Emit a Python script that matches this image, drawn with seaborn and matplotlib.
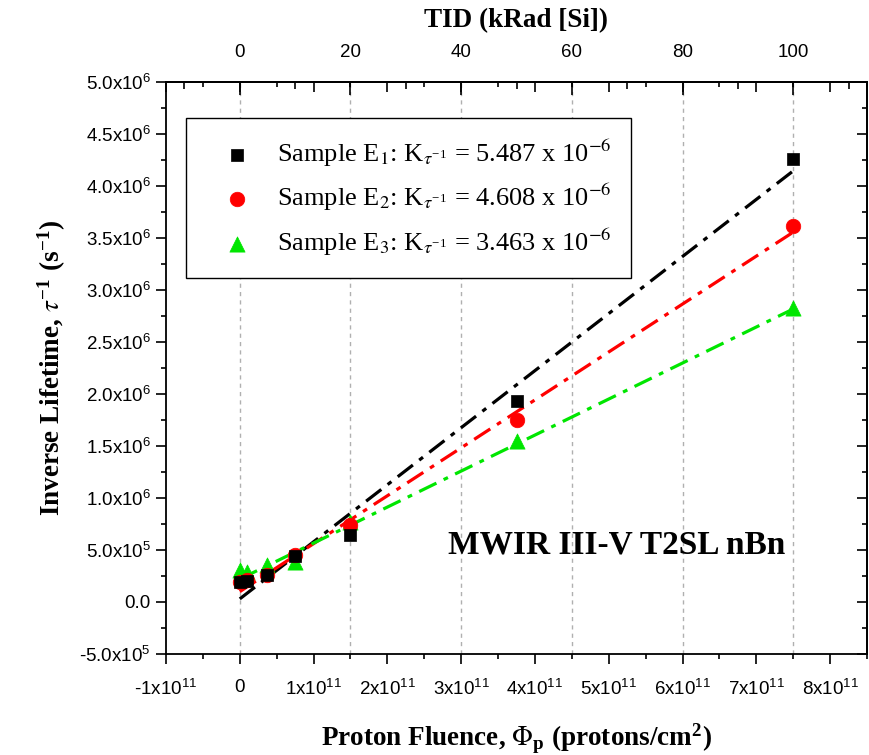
import matplotlib
matplotlib.use("Agg")
import matplotlib.pyplot as plt
from matplotlib.font_manager import FontProperties
from matplotlib.ticker import MultipleLocator, FixedLocator
import seaborn as sns
import numpy as np
import pandas as pd

# ---------------- data ----------------
fluence = [0.0, 1.0e10, 3.75e10, 7.5e10, 1.5e11, 3.75e11, 7.5e11]
e1_vals = [0.19e6, 0.20e6, 0.26e6, 0.44e6, 0.645e6, 1.93e6, 4.26e6]
e2_vals = [0.19e6, 0.21e6, 0.26e6, 0.45e6, 0.74e6, 1.75e6, 3.62e6]
e3_vals = [0.31e6, 0.29e6, 0.36e6, 0.38e6, 0.77e6, 1.55e6, 2.83e6]
slopes = [5.487e-6, 4.608e-6, 3.463e-6]
intercepts = [0.03e6, 0.10e6, 0.22e6]
fit_range = [0.0, 7.5e11]
labels = [r"Sample E$_1$: K$_{\tau^{\mathregular{-1}}}$ = 5.487 x 10$^{-6}$",
          r"Sample E$_2$: K$_{\tau^{\mathregular{-1}}}$ = 4.608 x 10$^{-6}$",
          r"Sample E$_3$: K$_{\tau^{\mathregular{-1}}}$ = 3.463 x 10$^{-6}$"]
tid_ticks = [0, 20, 40, 60, 80, 100]
fluence_per_krad = 7.5e9

colors = ["#000000", "#ff0000", "#00e600"]
markers = ["s", "o", "^"]
sizes = [80, 110, 120]

sns.set_theme(style="white")
plt.rcParams["font.family"] = ["Liberation Sans", "DejaVu Sans"]
plt.rcParams["mathtext.fontset"] = "custom"
plt.rcParams["mathtext.rm"] = "Liberation Sans"
plt.rcParams["mathtext.it"] = "Liberation Sans:italic"
plt.rcParams["mathtext.bf"] = "Liberation Sans:bold"
for k in ["text.color", "axes.labelcolor", "xtick.color", "ytick.color", "axes.edgecolor"]:
    plt.rcParams[k] = "black"

fig = plt.figure(figsize=(8.69, 7.55), dpi=100)
ax = fig.add_axes([166/869, 1-654/755, (867-166)/869, (654-82)/755])

# grid lines at TID major ticks
for t in tid_ticks:
    ax.axvline(t*fluence_per_krad, color="#b0b0b0", ls=(0, (3, 3)), lw=1.0, zorder=0)

series = [e1_vals, e2_vals, e3_vals]
for i, vals in enumerate(series):
    fx = np.array(fit_range)
    fy = intercepts[i] + slopes[i]*fx
    sns.lineplot(x=fx, y=fy, ax=ax, color=colors[i], lw=2.3,
                 dashes=False, linestyle=(0, (6, 2.5, 1.5, 2.5)), zorder=2)
order = [2, 1, 0]
for i in order:
    df = pd.DataFrame({"x": fluence, "y": series[i]})
    sns.scatterplot(data=df, x="x", y="y", ax=ax, color=colors[i], marker=markers[i],
                    s=sizes[i], edgecolor=colors[i], linewidth=0.5, zorder=3, label=labels[i])

ax.set_xlim(-1e11, 8.5e11)
ax.set_ylim(-5e5, 5e6)

# ticks
ax.xaxis.set_major_locator(MultipleLocator(1e11))
ax.xaxis.set_minor_locator(MultipleLocator(5e10))
ax.yaxis.set_major_locator(MultipleLocator(5e5))
ax.yaxis.set_minor_locator(MultipleLocator(2.5e5))

def fmt_x(v):
    n = int(round(v/1e11))
    if n == 0:
        return "0"
    return f"{n}x10$^{{11}}$"

def fmt_y(v):
    if abs(v) < 1:
        return "0.0"
    e = int(np.floor(np.log10(abs(v))))
    m = v/10**e
    return f"{m:.1f}x10$^{{{e}}}$"

xt = ax.get_xticks()
ax.set_xticks(xt)
ax.set_xticklabels([fmt_x(v) for v in xt])
yt = ax.get_yticks()
ax.set_yticks(yt)
ax.set_yticklabels([fmt_y(v) for v in yt])
ax.set_xlim(-1e11, 8.5e11)
ax.set_ylim(-5e5, 5e6)

ax.tick_params(axis="both", which="major", direction="out", length=7, width=1.2,
               labelsize=13.5, colors="black", bottom=True, left=True)
ax.tick_params(axis="both", which="minor", direction="out", length=3.5, width=1.2,
               bottom=True, left=True)
ax.tick_params(axis="x", pad=11)
ax.tick_params(axis="y", pad=4)
for s in ax.spines.values():
    s.set_color("black")
    s.set_linewidth(1.3)

# mirrored ticks (inward) on top and right
sec_top = ax.secondary_xaxis("top")
sec_top.xaxis.set_major_locator(MultipleLocator(1e11))
sec_top.xaxis.set_minor_locator(MultipleLocator(5e10))
sec_top.tick_params(which="major", direction="in", length=7, width=1.2, labeltop=False)
sec_top.tick_params(which="minor", direction="in", length=3.5, width=1.2)
sec_top.spines["top"].set_linewidth(1.3)

sec_right = ax.secondary_yaxis("right")
sec_right.yaxis.set_major_locator(MultipleLocator(5e5))
sec_right.yaxis.set_minor_locator(MultipleLocator(2.5e5))
sec_right.tick_params(which="major", direction="in", length=7, width=1.2, labelright=False)
sec_right.tick_params(which="minor", direction="in", length=3.5, width=1.2)
sec_right.spines["right"].set_linewidth(1.3)

# TID axis on top
tid = ax.secondary_xaxis("top", functions=(lambda f: f/fluence_per_krad, lambda t: t*fluence_per_krad))
tid.xaxis.set_major_locator(FixedLocator(tid_ticks))
tid.xaxis.set_minor_locator(MultipleLocator(10))
tid.tick_params(which="major", direction="in", length=9, width=1.2, labelsize=13.5, pad=15)
tid.tick_params(which="minor", direction="in", length=5, width=1.2)
tid.set_xlabel("TID (kRad [Si])", fontfamily="Liberation Serif", fontweight="bold",
               fontsize=19.5, labelpad=12)

serif_bold = dict(fontfamily="Liberation Serif", fontweight="bold", fontsize=19.5)
ax.set_xlabel(r"Proton Fluence, $\Phi_\mathregular{p}$ (protons/cm$^\mathregular{2}$)",
              math_fontfamily="stix", labelpad=16, **serif_bold)
ax.set_ylabel(r"Inverse Lifetime, $\tau^{\mathregular{-1}}$ (s$^{\mathregular{-1}}$)",
              math_fontfamily="stix", labelpad=8, **serif_bold)

ax.text(0.643, 0.19, "MWIR III-V T2SL nBn", transform=ax.transAxes, ha="center", va="center",
        fontfamily="Liberation Serif", fontweight="bold", fontsize=24)

# legend in E1, E2, E3 order
h, l = ax.get_legend_handles_labels()
lmap = dict(zip(l, h))
prop = FontProperties(family="Liberation Serif", size=19, math_fontfamily="stix")
leg = ax.legend([lmap[x] for x in labels], labels, loc="upper left",
                bbox_to_anchor=(0.0285, 0.937), borderaxespad=0, prop=prop,
                frameon=True, fancybox=False, edgecolor="black", framealpha=1,
                labelspacing=0.5, handletextpad=0.3, borderpad=0.75, handlelength=2.4,
                markerscale=1.0)
leg.get_frame().set_linewidth(1.0)

fig.savefig("out.png", dpi=100)
